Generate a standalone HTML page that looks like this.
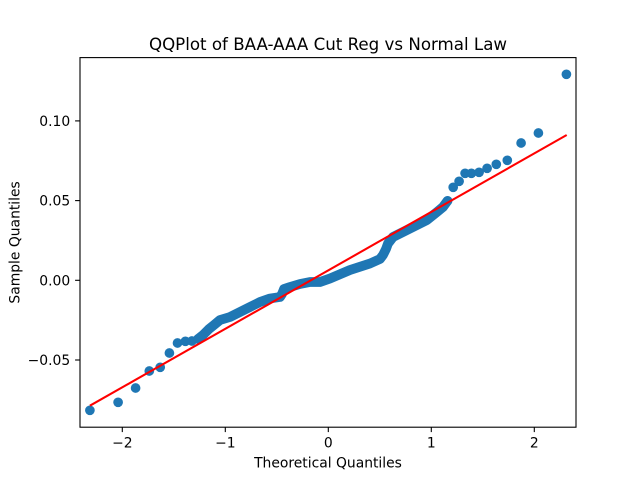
<!DOCTYPE html>
<html>
<head>
<meta charset="utf-8">
<style>
html,body{margin:0;padding:0;background:#fff;}
svg{display:block;}
text{font-family:"DejaVu Sans","Liberation Sans",sans-serif;fill:#000;}
</style>
</head>
<body>
<svg width="640" height="480" viewBox="0 0 640 480" xmlns="http://www.w3.org/2000/svg">
<rect x="0" y="0" width="640" height="480" fill="#fff"/>
<!-- title -->
<text x="328" y="50" font-size="16.67" text-anchor="middle">QQPlot of BAA-AAA Cut Reg vs Normal Law</text>

<!-- data: dense middle band -->
<polyline fill="none" stroke="#1f77b4" stroke-width="9.7" stroke-linecap="round" stroke-linejoin="round"
points="198,339 203,335 209,329 214,325 220,320 230,317 240,312 250,307 260,302 270,298.5 280,297 282,294 284,289 290,287 300,284 310,282 320,282 330,278.5 350,270 370,263.5 380,259 383,255 386,249 388,243.5 393,237 410,228.5 427,220 437,212 443,207 447.4,201"/>
<g fill="#1f77b4">
<circle cx="89.9" cy="410.3" r="4.85"/>
<circle cx="118.1" cy="402.3" r="4.85"/>
<circle cx="135.6" cy="388" r="4.85"/>
<circle cx="149.3" cy="371" r="4.85"/>
<circle cx="160.2" cy="367.3" r="4.85"/>
<circle cx="169.4" cy="353" r="4.85"/>
<circle cx="177.5" cy="343" r="4.85"/>
<circle cx="185.4" cy="341.3" r="4.85"/>
<circle cx="191.9" cy="341" r="4.85"/>
<circle cx="198.1" cy="339" r="4.85"/>
<circle cx="447.6" cy="200.8" r="4.85"/>
<circle cx="453.2" cy="187.3" r="4.85"/>
<circle cx="459.1" cy="181.3" r="4.85"/>
<circle cx="465.1" cy="173.3" r="4.85"/>
<circle cx="471.4" cy="173.3" r="4.85"/>
<circle cx="479.1" cy="172.3" r="4.85"/>
<circle cx="487.1" cy="168.3" r="4.85"/>
<circle cx="496.3" cy="164.3" r="4.85"/>
<circle cx="507.3" cy="160.3" r="4.85"/>
<circle cx="521.1" cy="143" r="4.85"/>
<circle cx="538.4" cy="133" r="4.85"/>
<circle cx="566.4" cy="74.3" r="4.85"/>
</g>

<!-- fit line -->
<line x1="89.9" y1="405.7" x2="566.7" y2="135" stroke="#ff0000" stroke-width="2.08"/>

<!-- axes frame -->
<rect x="80" y="57.6" width="496" height="369.6" fill="none" stroke="#000" stroke-width="1.1"/>

<!-- ticks -->
<g stroke="#000" stroke-width="1.1">
<line x1="122.3" y1="427.2" x2="122.3" y2="432.1"/>
<line x1="225.3" y1="427.2" x2="225.3" y2="432.1"/>
<line x1="328.3" y1="427.2" x2="328.3" y2="432.1"/>
<line x1="431.3" y1="427.2" x2="431.3" y2="432.1"/>
<line x1="534.3" y1="427.2" x2="534.3" y2="432.1"/>
<line x1="75.1" y1="120.9" x2="80" y2="120.9"/>
<line x1="75.1" y1="200.6" x2="80" y2="200.6"/>
<line x1="75.1" y1="280.3" x2="80" y2="280.3"/>
<line x1="75.1" y1="360.0" x2="80" y2="360.0"/>
</g>
<g font-size="13.89" text-anchor="middle">
<text x="122.3" y="447.5">−2</text>
<text x="225.3" y="447.5">−1</text>
<text x="328.3" y="447.5">0</text>
<text x="431.3" y="447.5">1</text>
<text x="534.3" y="447.5">2</text>
</g>
<g font-size="13.89" text-anchor="end">
<text x="70.2" y="125.9">0.10</text>
<text x="70.2" y="205.6">0.05</text>
<text x="70.2" y="285.3">0.00</text>
<text x="70.2" y="365.0">−0.05</text>
</g>
<text x="328" y="467.5" font-size="13.89" text-anchor="middle">Theoretical Quantiles</text>
<text transform="translate(19.5,242.4) rotate(-90)" font-size="13.89" text-anchor="middle">Sample Quantiles</text>
</svg>
</body>
</html>
